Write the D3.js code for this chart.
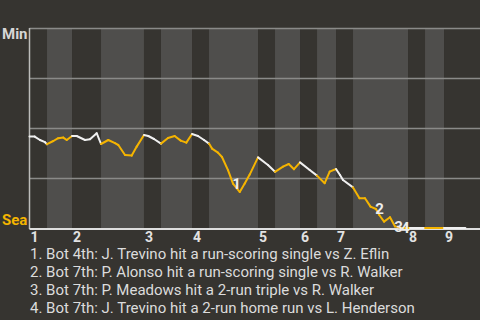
<!DOCTYPE html>
<meta charset="utf-8">
<style>
    body { margin: 0; background: #363430; }
    text { font-family: Roboto, "Noto Sans", sans-serif; }
</style>
<svg width="480" height="320"></svg>
<script src="https://cdn.jsdelivr.net/npm/d3@7"></script>
<script>

    // half-inning start positions (in play units), alternating top (Min bats) / bottom (Sea bats)
    var halfStarts = [0, 3.11, 7.55, 12.7, 20.33, 23.35, 28.86, 31.88, 40.58, 43.6, 48.04, 51.06, 54.43, 57.45, 67.22, 70.24, 73.61];
    var playEnd = 80;
    var innings = [1, 2, 3, 4, 5, 6, 7, 8, 9];

    // Minnesota win probability (%) after each play
    var playX = [0, 0.92, 1.86, 2.75, 3.11, 4.23, 5.11, 6.0, 6.61, 7.55,
        8.38, 9.86, 10.74, 11.93, 12.7, 13.99, 15.18, 15.77, 16.96, 18.15,
        19.04, 20.33, 21.1, 22.11, 23.35, 24.6, 25.78, 26.85, 27.85, 28.86,
        29.92, 30.99, 31.88, 32.41, 33.47, 34.18, 35.25, 36.14, 37.33, 38.22,
        39.1, 40.58, 42.35, 43.6, 45.02, 46.03, 46.97, 48.04, 49.76, 51.06,
        52.42, 53.31, 54.43, 55.14, 55.67, 57.45, 58.6, 59.58, 60.56, 61.53,
        62.12, 62.96, 64.02, 64.91, 66.1, 67.57, 70.24, 73.61, 77.4];
    var minWin = [45.7, 45.7, 44, 42.9, 41.9, 43.5, 44.9, 45.2, 44, 46,
        46, 44, 44.4, 47.4, 42, 44, 42.4, 41.5, 36.5, 36.2,
        40.7, 46.5, 46, 44.5, 42.2, 45, 46, 43.7, 42.7, 47,
        46, 44, 42.2, 39.7, 37.7, 35.5, 28.9, 22.2, 18, 22.2,
        26.7, 35.3, 31.5, 28.1, 30.7, 32, 29.4, 32.8, 29, 26.2,
        22.4, 28.2, 29.5, 26.5, 24, 20.3, 14.9, 14.9, 10.7, 9.5,
        6.5, 3.2, 5.4, 0.8, 0, 0, 0, 0, 0];

    var eventIdx = [37, 59, 63, 64];
    var eventText = [
        "1. Bot 4th: J. Trevino hit a run-scoring single vs Z. Eflin",
        "2. Bot 7th: P. Alonso hit a run-scoring single vs R. Walker",
        "3. Bot 7th: P. Meadows hit a 2-run triple vs R. Walker",
        "4. Bot 7th: J. Trevino hit a 2-run home run vs L. Henderson"
    ];

    var gridTicks = [25, 50, 75, 100];
    var teamColor = {Min: "#f0f0f0", Sea: "#f5b400"};

    var svg = d3.select("svg"),
        margin = {top: 28, right: 0, bottom: 92, left: 29.5},
        width = +svg.attr("width"),
        height = +svg.attr("height");

    var x = d3.scaleLinear().domain([0, playEnd]).range([margin.left, width - margin.right]),
        y = d3.scaleLinear().domain([0, 100]).range([height - margin.bottom, margin.top]);

    // inning bands
    var halves = halfStarts.map(function(s, i) {
        return {start: s, end: i < halfStarts.length - 1 ? halfStarts[i + 1] : playEnd, team: i % 2 ? "Sea" : "Min"};
    });

    svg.append("g").selectAll("rect")
        .data(halves)
        .enter().append("rect")
        .attr("x", function(d) { return x(d.start); })
        .attr("width", function(d) { return x(d.end) - x(d.start); })
        .attr("y", y(100))
        .attr("height", y(0) - y(100))
        .attr("fill", function(d) { return d.team == "Sea" ? "#4f4e4c" : "#363430"; });

    svg.append("g").selectAll("line")
        .data(gridTicks)
        .enter().append("line")
        .attr("x1", x(0)).attr("x2", x(playEnd))
        .attr("y1", function(d) { return y(d) + 0.5; })
        .attr("y2", function(d) { return y(d) + 0.5; })
        .attr("stroke", "#8a8a88")
        .attr("stroke-width", 1.5);

    svg.append("line")
        .attr("x1", x(0)).attr("x2", x(0))
        .attr("y1", y(100)).attr("y2", y(0) + 1)
        .attr("stroke", "#bdbdbb")
        .attr("stroke-width", 1.5);

    svg.append("line")
        .attr("x1", x(0)).attr("x2", x(playEnd))
        .attr("y1", y(0) + 1).attr("y2", y(0) + 1)
        .attr("stroke", "#dedede")
        .attr("stroke-width", 2);

    // win probability line, one segment per play, coloured by batting team
    function teamAt(v) {
        var t = "Min";
        halves.forEach(function(h) { if (v >= h.start) t = h.team; });
        return t;
    }

    var segs = d3.range(playX.length - 1).map(function(i) {
        return {x0: playX[i], y0: minWin[i], x1: playX[i + 1], y1: minWin[i + 1], team: teamAt((playX[i] + playX[i + 1]) / 2)};
    });

    var line = d3.line()
        .x(function(d) { return x(d[0]); })
        .y(function(d) { return y(d[1]); });

    svg.append("g").selectAll("path")
        .data(segs)
        .enter().append("path")
        .attr("d", function(d) { return line([[d.x0, d.y0], [d.x1, d.y1]]); })
        .attr("fill", "none")
        .attr("stroke-linecap", "round")
        .attr("stroke", function(d) { return teamColor[d.team]; })
        .attr("stroke-width", 2);

    // event markers
    svg.append("g").selectAll("text")
        .data(eventIdx)
        .enter().append("text")
        .attr("x", function(d) { return x(playX[d]) + 3.5; })
        .attr("y", function(d) { return y(minWin[d]); })
        .attr("dy", "0.35em")
        .attr("text-anchor", "middle")
        .attr("fill", "#ececec")
        .style("font-size", "15px")
        .style("font-weight", "bold")
        .text(function(d, i) { return i + 1; });

    // inning labels
    svg.append("g").selectAll("text")
        .data(innings)
        .enter().append("text")
        .attr("x", function(d) { return x(halfStarts[(d - 1) * 2]) + 1; })
        .attr("y", 241.5)
        .attr("fill", "#e2e2e2")
        .style("font-size", "14px")
        .style("font-weight", "bold")
        .text(function(d) { return d; });

    svg.append("text")
        .attr("x", 2).attr("y", 39)
        .attr("fill", "#d6d6d6")
        .style("font-size", "15px")
        .style("font-weight", "bold")
        .text("Min");

    svg.append("text")
        .attr("x", 2).attr("y", 225)
        .attr("fill", teamColor.Sea)
        .style("font-size", "15px")
        .style("font-weight", "bold")
        .text("Sea");

    svg.append("g").selectAll("text")
        .data(eventText)
        .enter().append("text")
        .attr("x", 30)
        .attr("y", function(d, i) { return 258.5 + i * 18; })
        .attr("fill", "#dcdcdc")
        .style("font-size", "15px")
        .text(function(d) { return d; });

</script>
